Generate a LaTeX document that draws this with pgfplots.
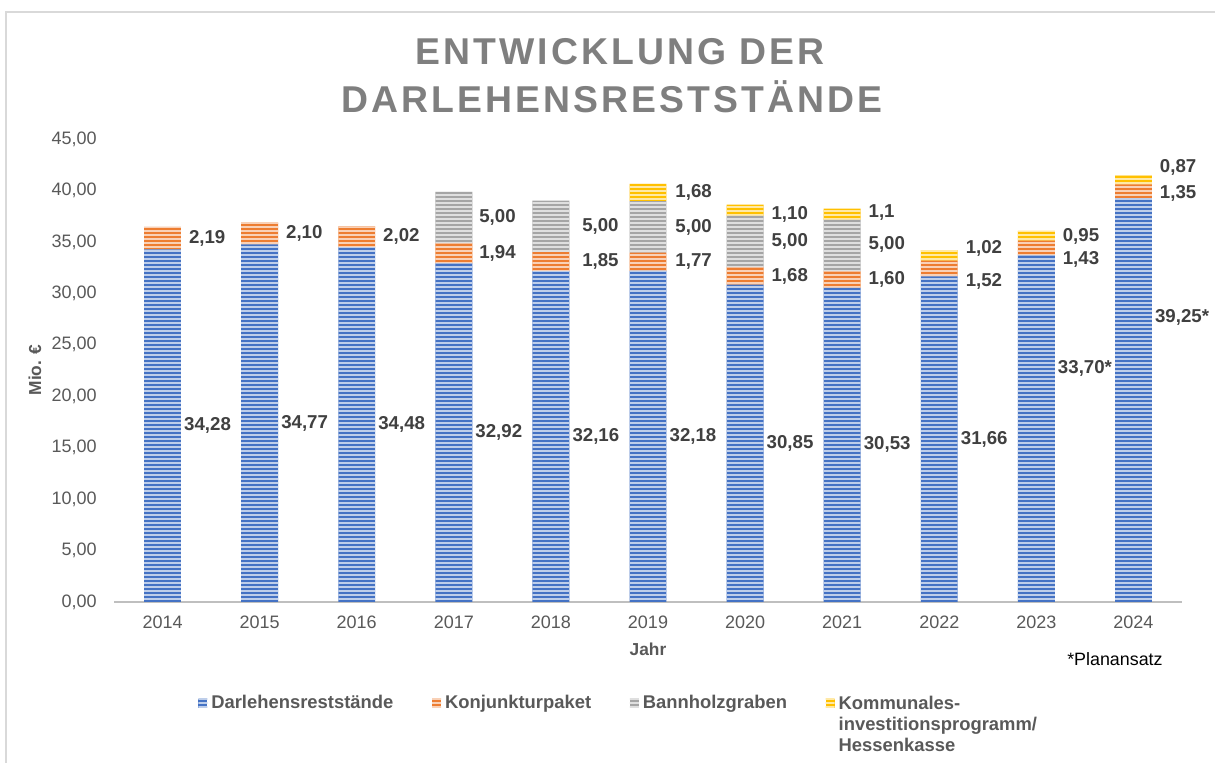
\documentclass[border=0pt]{standalone}
\usepackage{pgfplots}
\pgfplotsset{compat=1.18}
\usepackage{pgfplotstable}
\usepackage{fontspec}
\setmainfont{Liberation Sans}
\usetikzlibrary{patterns.meta}
\definecolor{cblue}{HTML}{4472C4}
\definecolor{corange}{HTML}{ED7D31}
\definecolor{cgray}{HTML}{A5A5A5}
\definecolor{cyellow}{HTML}{FFC000}
\definecolor{ctick}{HTML}{595959}
\definecolor{clab}{HTML}{404040}
\definecolor{ctitle}{HTML}{7F7F7F}
\definecolor{cframe}{HTML}{D9D9D9}
\definecolor{caxis}{HTML}{BFBFBF}

\pgfplotstableread{
year Darl Konj Bann Komm
2014 34.28 2.19 0 0
2015 34.77 2.10 0 0
2016 34.48 2.02 0 0
2017 32.92 1.94 5.00 0
2018 32.16 1.85 5.00 0
2019 32.18 1.77 5.00 1.68
2020 30.85 1.68 5.00 1.10
2021 30.53 1.60 5.00 1.10
2022 31.66 1.52 0 1.02
2023 33.70 1.43 0 0.95
2024 39.25 1.35 0 0.87
}\datatable

\pgfplotstableread{
x y lab
2014.22 17.14 34,28
2015.22 17.385 34,77
2016.22 17.24 34,48
2017.22 16.46 32,92
2018.22 16.08 32,16
2019.22 16.09 32,18
2020.22 15.43 30,85
2021.22 15.27 30,53
2022.22 15.83 31,66
2023.22 22.74 33,70*
2024.22 27.70 39,25*
2014.27 35.38 2,19
2015.27 35.82 2,10
2016.27 35.49 2,02
2017.26 33.89 1,94
2018.32 33.09 1,85
2019.28 33.07 1,77
2020.27 31.69 1,68
2021.27 31.33 1,60
2022.27 31.20 1,52
2023.27 33.34 1,43
2024.27 39.75 1,35
2017.26 37.36 5,00
2018.32 36.51 5,00
2019.28 36.45 5,00
2020.27 35.03 5,00
2021.27 34.80 5,00
2019.28 39.79 1,68
2020.27 37.71 1,10
2021.27 37.90 1,1
2022.27 34.40 1,02
2023.27 35.57 0,95
2024.27 42.28 0,87
}\labeltable

\tikzset{
  stripes/.style={postaction={pattern={Lines[angle=0,distance=3pt,line width=1.2pt]}, pattern color=#1!35!white}},
}

\pgfplotsset{
  common/.style={
    scale only axis,
    width=801pt, height=347.25pt,
    at={(85.5pt,120.75pt)}, anchor=south west,
    xmin=2013.5, xmax=2024.5, ymin=0, ymax=45,
  },
}

\begin{document}
\begin{tikzpicture}
\useasboundingbox (0,0) rectangle (911.25pt,572.25pt);
\fill[white] (0,0) rectangle (911.25pt,572.25pt);
\draw[cframe, line width=1.2pt] (4.5pt,0) -- (4.5pt,563.25pt) -- (911.25pt,563.25pt);

\begin{axis}[common,
  ybar stacked, bar width=0.38,
  axis x line*=bottom, axis y line*=left,
  x axis line style={draw=caxis, line width=1.4pt},
  y axis line style={draw=none},
  major tick length=0pt,
  xtick={2014,2015,2016,2017,2018,2019,2020,2021,2022,2023,2024},
  xticklabels={2014,2015,2016,2017,2018,2019,2020,2021,2022,2023,2024},
  ytick={0,5,...,45},
  xticklabel style={anchor=north, inner sep=0pt, yshift=-10pt, font=\fontsize{13.5}{16}\selectfont, text=ctick},
  yticklabel style={anchor=east, inner sep=0pt, xshift=-12.75pt, font=\fontsize{13.5}{16}\selectfont, text=ctick,
    /pgf/number format/.cd, fixed, fixed zerofill, precision=2, use comma, assume math mode=true},
  legend columns=4,
  legend style={at={(0.0787,-0.2)}, anchor=north west, draw=none, inner sep=0pt,
    font=\fontsize{13.8}{15.75}\selectfont\bfseries, text=ctick,
    /tikz/every odd column/.append style={column sep=3pt},
    /tikz/every even column/.append style={column sep=29pt},
    nodes={inner sep=0pt}},
  legend cell align=left,
  legend image code/.code={\fill[#1] (0pt,-3.4pt) rectangle (6.75pt,3.4pt);},
]
\addplot[fill=cblue, draw=none, stripes=cblue] table[x=year, y=Darl] {\datatable};
\addlegendentry{Darlehensreststände}
\addplot[fill=corange, draw=none, stripes=corange] table[x=year, y=Konj] {\datatable};
\addlegendentry{Konjunkturpaket}
\addplot[fill=cgray, draw=none, stripes=cgray] table[x=year, y=Bann] {\datatable};
\addlegendentry{Bannholzgraben}
\addplot[fill=cyellow, draw=none, stripes=cyellow] table[x=year, y=Komm] {\datatable};
\addlegendentry{\raisebox{0.4pt}[\height][0pt]{\begin{tabular}[t]{@{}l@{}}Kommunales-\\investitionsprogramm/\\Hessenkasse\end{tabular}}}
\end{axis}

\begin{axis}[common, hide axis]
\addplot[draw=none, mark=none, nodes near coords, point meta=explicit symbolic,
  nodes near coords style={anchor=west, inner sep=0pt, font=\fontsize{14}{16}\selectfont\bfseries, text=clab}]
  table[x=x, y=y, meta=lab] {\labeltable};
\end{axis}

\node[anchor=base, font=\fontsize{28}{32}\selectfont\bfseries\addfontfeature{LetterSpace=8.3}, text=ctitle] at (465pt,523.5pt) {ENTWICKLUNG DER};
\node[anchor=base, font=\fontsize{28}{32}\selectfont\bfseries\addfontfeature{LetterSpace=8.3}, text=ctitle] at (459pt,487.5pt) {DARLEHENSRESTSTÄNDE};
\node[anchor=base, font=\fontsize{13}{15}\selectfont\bfseries, text=ctick] at (486pt,80.25pt) {Jahr};
\node[rotate=90, font=\fontsize{13}{15}\selectfont\bfseries, text=ctick] at (26.25pt,294.75pt) {Mio. €};
\node[anchor=base west, inner sep=0pt, font=\fontsize{13.4}{15}\selectfont, text=black] at (800.25pt,72.75pt) {*Planansatz};
\end{tikzpicture}
\end{document}
